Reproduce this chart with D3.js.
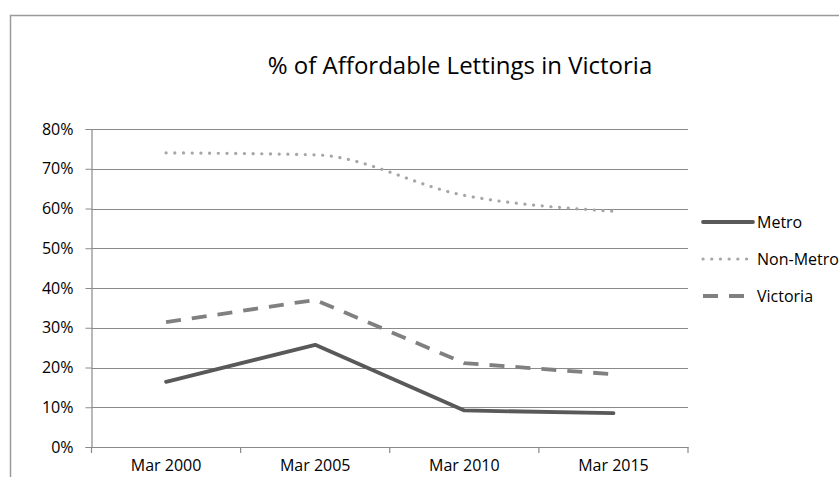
<!DOCTYPE html>
<html>
<head>
<meta charset="utf-8">
<script src="https://cdn.jsdelivr.net/npm/d3@7"></script>
<style>
  html, body { margin: 0; padding: 0; background: #fff; }
  svg { display: block; }
  text { font-family: "Open Sans", "Noto Sans", sans-serif; fill: #000; }
</style>
</head>
<body>
<svg id="chart" width="839" height="477"></svg>
<script>
const title = "% of Affordable Lettings in Victoria";
const categories = ["Mar 2000", "Mar 2005", "Mar 2010", "Mar 2015"];
const metro = [16.4, 25.7, 9.2, 8.5];
const nonMetro = [74.0, 73.5, 63.3, 59.3];
const victoria = [31.4, 37.0, 21.1, 18.3];
const yTicks = [0, 10, 20, 30, 40, 50, 60, 70, 80];
const seriesNames = ["Metro", "Non-Metro", "Victoria"];

const series = [
  { name: seriesNames[0], values: metro, color: "#595959", width: 3.8, dash: null, cap: "round", curve: d3.curveLinear },
  { name: seriesNames[1], values: nonMetro, color: "#a6a6a6", width: 3.2, dash: "0.1,8.6", cap: "round", curve: d3.curveMonotoneX },
  { name: seriesNames[2], values: victoria, color: "#808080", width: 3.8, dash: "15,11", cap: "butt", curve: d3.curveLinear }
];

const FONT = '"Open Sans", "Noto Sans", sans-serif';
const svg = d3.select("#chart");

// outer chart border (extends beyond the canvas on right/bottom)
svg.append("rect")
  .attr("x", 10.5).attr("y", 15.5)
  .attr("width", 900).attr("height", 600)
  .attr("fill", "none").attr("stroke", "#9a9a9a").attr("stroke-width", 1.5);

const plot = { left: 91.5, right: 688, top: 129, bottom: 447 };

const x = d3.scaleBand().domain(categories).range([plot.left, plot.right]).padding(0);
const y = d3.scaleLinear().domain([0, 80]).range([plot.bottom, plot.top]);

// gridlines
svg.append("g").selectAll("line").data(yTicks.slice(1)).join("line")
  .attr("x1", plot.left).attr("x2", plot.right)
  .attr("y1", d => Math.round(y(d)) + 0.5).attr("y2", d => Math.round(y(d)) + 0.5)
  .attr("stroke", "#8a8a8a").attr("stroke-width", 1);

// y axis
const yAxis = svg.append("g").attr("transform", `translate(${plot.left},0)`)
  .call(d3.axisLeft(y).tickValues(yTicks).tickFormat(d => d + "%").tickSize(6).tickPadding(12));
yAxis.select(".domain").attr("stroke", "#8a8a8a").attr("stroke-width", 1.2);
yAxis.selectAll(".tick line").attr("stroke", "#8a8a8a");
yAxis.selectAll("text").attr("font-size", 16).attr("fill", "#000")
  .style("font-family", FONT);

// x axis
const xAxis = svg.append("g").attr("transform", `translate(0,${plot.bottom})`)
  .call(d3.axisBottom(x).tickSize(0).tickPadding(13));
xAxis.select(".domain").attr("stroke", "#8a8a8a").attr("stroke-width", 1.2);
xAxis.selectAll("text").attr("font-size", 16).attr("fill", "#000")
  .style("font-family", FONT);
// boundary tick marks between categories
const bounds = categories.map(c => x(c)).concat([x(categories[categories.length - 1]) + x.bandwidth()]);
svg.append("g").selectAll("line").data(bounds).join("line")
  .attr("x1", d => d).attr("x2", d => d)
  .attr("y1", plot.bottom).attr("y2", plot.bottom + 6)
  .attr("stroke", "#8a8a8a").attr("stroke-width", 1.2);

// lines
const cx = c => x(c) + x.bandwidth() / 2;
series.forEach(s => {
  const line = d3.line().x((d, i) => cx(categories[i])).y(d => y(d)).curve(s.curve);
  svg.append("path")
    .datum(s.values)
    .attr("d", line)
    .attr("fill", "none")
    .attr("stroke", s.color)
    .attr("stroke-width", s.width)
    .attr("stroke-linecap", s.cap)
    .attr("stroke-linejoin", "round")
    .attr("stroke-dasharray", s.dash);
});

// title
svg.append("text")
  .attr("x", 460).attr("y", 74)
  .attr("text-anchor", "middle")
  .attr("font-size", 24)
  .text(title);

// legend
const legendY = [222, 259, 296];
const lg = svg.append("g");
series.forEach((s, i) => {
  lg.append("line")
    .attr("x1", 703).attr("x2", 753)
    .attr("y1", legendY[i]).attr("y2", legendY[i])
    .attr("stroke", s.color)
    .attr("stroke-width", s.width)
    .attr("stroke-linecap", s.cap)
    .attr("stroke-dasharray", s.dash);
  lg.append("text")
    .attr("x", 757).attr("y", legendY[i])
    .attr("dy", "0.35em")
    .attr("font-size", 16)
    .text(s.name);
});
</script>
</body>
</html>
